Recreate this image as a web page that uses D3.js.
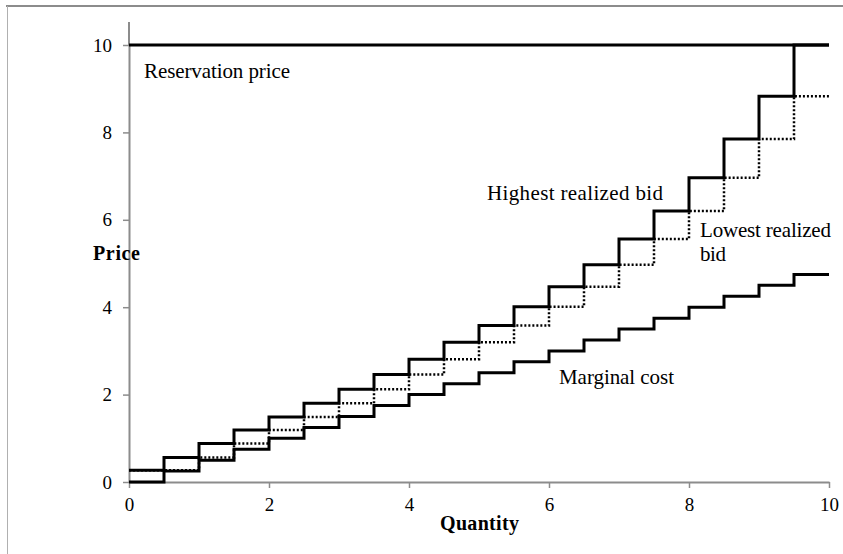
<!DOCTYPE html>
<html>
<head>
<meta charset="utf-8">
<script src="https://cdn.jsdelivr.net/npm/d3@7"></script>
<style>
body { margin: 0; background: #fff; }
text { font-family: "Liberation Serif", "DejaVu Serif", serif; }
</style>
</head>
<body>
<div id="chart"></div>
<script>
// step breakpoints (quantity), one price per half-unit step
var quantitySteps = [0, 0.5, 1, 1.5, 2, 2.5, 3, 3.5, 4, 4.5, 5, 5.5, 6, 6.5, 7, 7.5, 8, 8.5, 9, 9.5];
var highestBid = [0.27, 0.56, 0.88, 1.19, 1.49, 1.80, 2.12, 2.46, 2.81, 3.20, 3.58, 4.01, 4.47, 4.97, 5.56, 6.20, 6.96, 7.85, 8.83, 10];
var lowestBid = [0.27, 0.27, 0.56, 0.88, 1.19, 1.49, 1.80, 2.12, 2.46, 2.81, 3.20, 3.58, 4.01, 4.47, 4.97, 5.56, 6.20, 6.96, 7.85, 8.83];
var marginalCost = [0, 0.25, 0.5, 0.75, 1, 1.25, 1.5, 1.75, 2, 2.25, 2.5, 2.75, 3, 3.25, 3.5, 3.75, 4, 4.25, 4.5, 4.75];
var reservationPrice = 10;
var xTicks = [0, 2, 4, 6, 8, 10];
var yTicks = [0, 2, 4, 6, 8, 10];

var svg = d3.select("#chart").append("svg")
    .attr("width", 843)
    .attr("height", 554);

// frame
svg.append("line").attr("x1", 6).attr("x2", 843).attr("y1", 6).attr("y2", 6)
    .attr("stroke", "#8c8c8c").attr("stroke-width", 2);
svg.append("line").attr("x1", 7.5).attr("x2", 7.5).attr("y1", 6).attr("y2", 554)
    .attr("stroke", "#b0b0b0").attr("stroke-width", 1);

var x = d3.scaleLinear().domain([0, 10]).range([129, 829]);
var y = d3.scaleLinear().domain([0, 10]).range([482, 45]);

// axes
var xAxis = svg.append("g")
    .attr("transform", "translate(0," + y(0) + ")")
    .call(d3.axisBottom(x).tickValues(xTicks).tickSize(6).tickSizeOuter(0).tickPadding(10));
var yAxis = svg.append("g")
    .attr("transform", "translate(" + x(0) + ",0)")
    .call(d3.axisLeft(y).tickValues(yTicks).tickSize(6).tickSizeOuter(0).tickPadding(11));

[xAxis, yAxis].forEach(function(a) {
  a.attr("font-size", 19).attr("font-family", "'Liberation Serif', serif");
  a.select(".domain").attr("stroke", "#8c8c8c").attr("stroke-width", 2);
  a.selectAll(".tick line").attr("stroke", "#8c8c8c").attr("stroke-width", 1.5);
  a.selectAll(".tick text").attr("fill", "#000");
});
// y axis extends above top tick
svg.append("line").attr("x1", x(0)).attr("x2", x(0)).attr("y1", 22).attr("y2", y(10))
    .attr("stroke", "#8c8c8c").attr("stroke-width", 2);

function stepData(vals) {
  var pts = quantitySteps.map(function(q, i) { return [q, vals[i]]; });
  pts.push([10, vals[vals.length - 1]]);
  return pts;
}

var line = d3.line()
    .x(function(d) { return x(d[0]); })
    .y(function(d) { return y(d[1]); })
    .curve(d3.curveStepAfter);

svg.append("path")
    .attr("d", line([[0, reservationPrice], [10, reservationPrice]]))
    .attr("fill", "none").attr("stroke", "#000").attr("stroke-width", 3);

svg.append("path")
    .attr("d", line(stepData(marginalCost)))
    .attr("fill", "none").attr("stroke", "#000").attr("stroke-width", 3);

svg.append("path")
    .attr("d", line(stepData(lowestBid)))
    .attr("fill", "none").attr("stroke", "#000").attr("stroke-width", 2.5)
    .attr("stroke-dasharray", "2,2");

svg.append("path")
    .attr("d", line(stepData(highestBid)))
    .attr("fill", "none").attr("stroke", "#000").attr("stroke-width", 3);

// labels
function label(t, px, py, bold, len) {
  svg.append("text").attr("x", px).attr("y", py)
    .attr("font-size", bold ? 20 : 21)
    .attr("font-weight", bold ? "bold" : "normal")
    .attr("textLength", len)
    .attr("lengthAdjust", "spacing")
    .text(t);
}
label("Reservation price", 144, 78, false, 146);
label("Highest realized bid", 487, 200, false, 176);
label("Lowest realized", 700, 237, false, 131);
label("bid", 700, 261, false, 26);
label("Marginal cost", 559, 384, false, 115);
label("Price", 93, 260, true, 47);
label("Quantity", 440, 530, true, 79);
</script>
</body>
</html>
